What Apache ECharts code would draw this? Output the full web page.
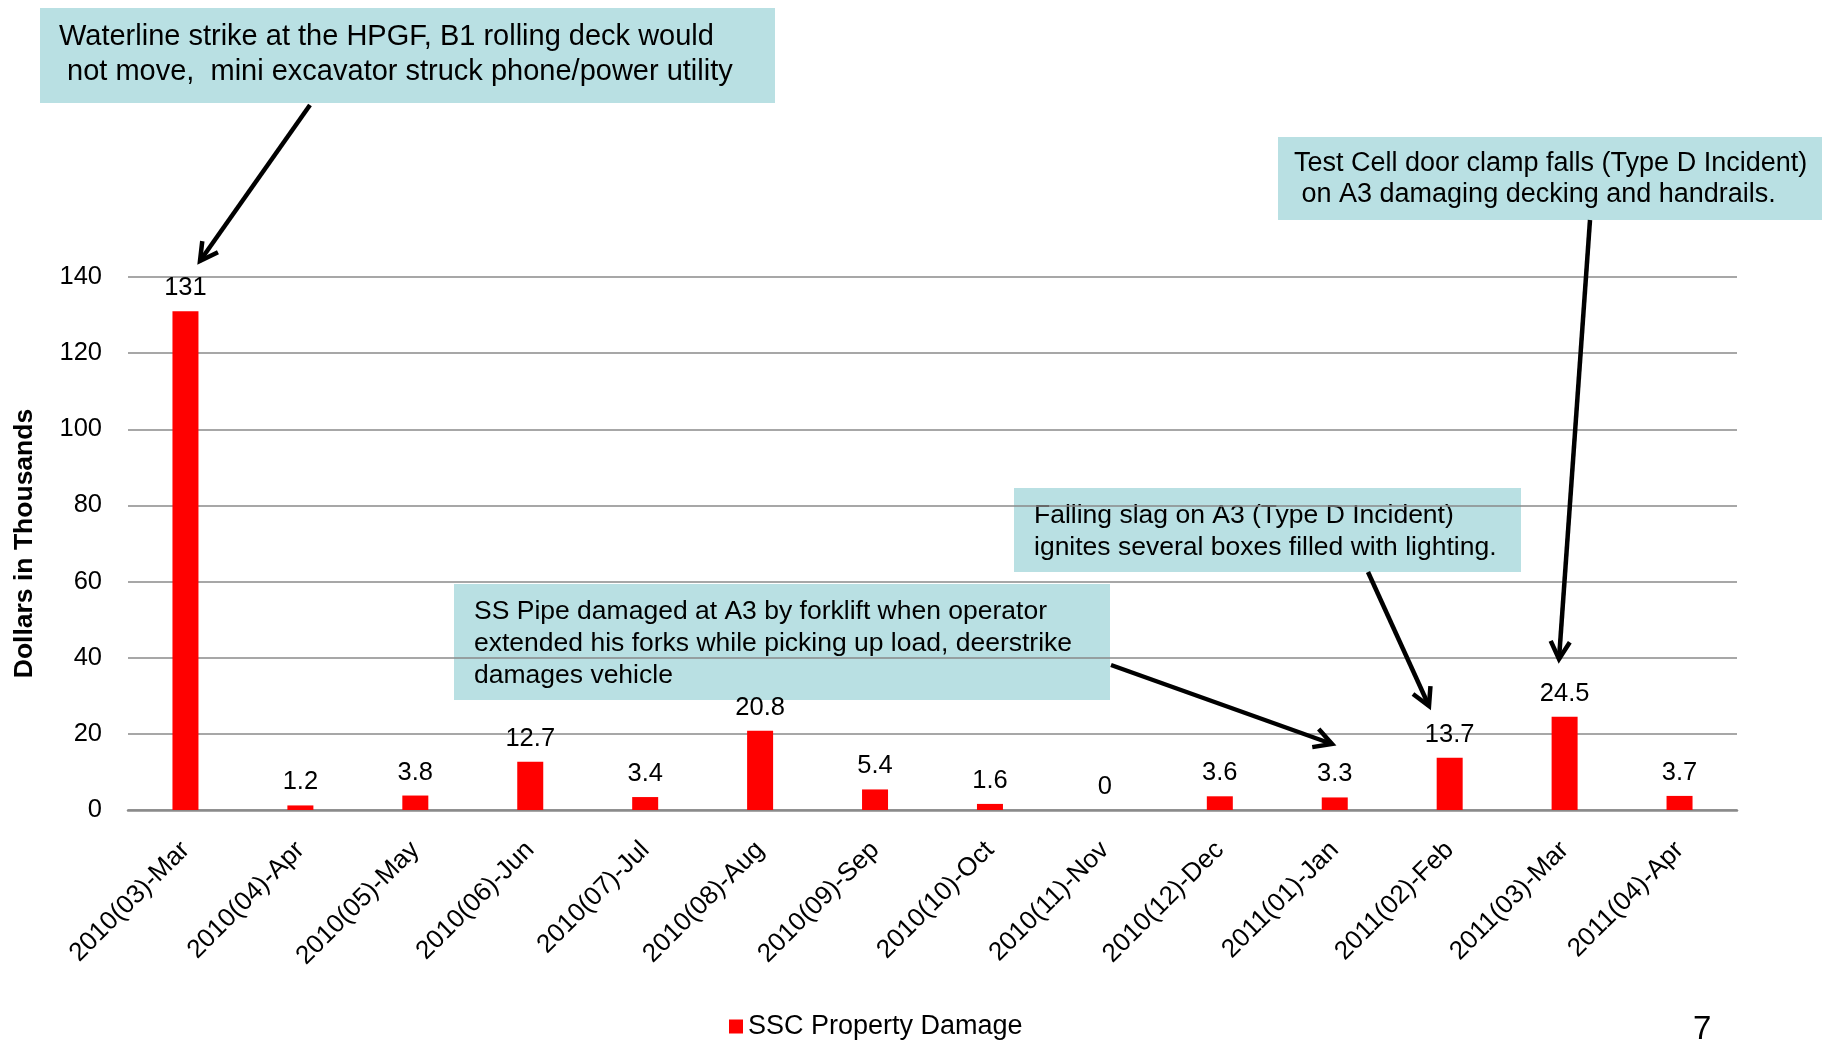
<!DOCTYPE html>
<html>
<head>
<meta charset="utf-8">
<script src="https://cdn.jsdelivr.net/npm/echarts@6/dist/echarts.min.js"></script>
<style>
html,body{margin:0;padding:0;background:#fff;}
#main{width:1822px;height:1040px;}
</style>
</head>
<body>
<div id="main"></div>
<script>
const categories = ['2010(03)-Mar','2010(04)-Apr','2010(05)-May','2010(06)-Jun','2010(07)-Jul','2010(08)-Aug','2010(09)-Sep','2010(10)-Oct','2010(11)-Nov','2010(12)-Dec','2011(01)-Jan','2011(02)-Feb','2011(03)-Mar','2011(04)-Apr'];
const damageValues = [131, 1.2, 3.8, 12.7, 3.4, 20.8, 5.4, 1.6, 0, 3.6, 3.3, 13.7, 24.5, 3.7];
const seriesName = 'SSC Property Damage';
const yAxisName = 'Dollars in Thousands';
const notes = [
  ['Waterline strike at the HPGF, B1 rolling deck would', ' not move,  mini excavator struck phone/power utility'],
  ['Test Cell door clamp falls (Type D Incident)', ' on A3 damaging decking and handrails.'],
  ['Falling slag on A3 (Type D Incident)', 'ignites several boxes filled with lighting.'],
  ['SS Pipe damaged at A3 by forklift when operator', 'extended his forks while picking up load, deerstrike', 'damages vehicle']
];

const FONT = '"Liberation Sans", Arial, sans-serif';
const BOX = '#b9e0e3';

function box(x, y, w, h, lines, tx, ty, lh, fs) {
  const els = [{type:'rect', z:-5, shape:{x:x, y:y, width:w, height:h}, style:{fill:BOX}}];
  lines.forEach((t, i) => {
    els.push({type:'text', z:-4, x:tx, y:ty + i*lh, style:{text:t, font: fs + 'px ' + FONT, fill:'#000', textVerticalAlign:'middle'}});
  });
  return els;
}
function arrow(x1, y1, x2, y2) {
  const a = Math.atan2(y2 - y1, x2 - x1);
  const L = 20, sp = 0.5;
  const p1 = [x2 - L*Math.cos(a - sp), y2 - L*Math.sin(a - sp)];
  const p2 = [x2 - L*Math.cos(a + sp), y2 - L*Math.sin(a + sp)];
  return [
    {type:'line', z:10, shape:{x1:x1, y1:y1, x2:x2, y2:y2}, style:{stroke:'#000', lineWidth:4.5}},
    {type:'polyline', z:10, shape:{points:[p1, [x2, y2], p2]}, style:{stroke:'#000', lineWidth:4.5, fill:null, lineJoin:'miter'}}
  ];
}

const graphics = [].concat(
  box(40, 8, 735, 95, notes[0], 59, 37, 35, 29),
  box(1278, 137, 544, 83, notes[1], 1294, 164, 31, 27),
  box(1014, 488, 507, 84, notes[2], 1034, 516, 32, 26.5),
  box(454, 584, 656, 116, notes[3], 474, 612, 32, 26.5),
  arrow(310, 105, 200, 261),
  arrow(1590, 220, 1559, 659),
  arrow(1368, 572, 1429, 706),
  arrow(1111, 665, 1332, 744),
  [{type:'text', x:1693, y:1013, style:{text:'7', font:'33px ' + FONT, fill:'#000'}}]
);

const chart = echarts.init(document.getElementById('main'));
chart.setOption({
  backgroundColor:'#fff',
  animation:false,
  grid:{left:128, right:85, top:277, bottom:230, containLabel:false},
  legend:{
    data:[seriesName], top:1008, left:724, itemWidth:14, itemHeight:14, itemGap:4,
    icon:'rect',
    textStyle:{fontFamily:FONT, fontSize:27, color:'#000'}
  },
  xAxis:{
    type:'category', data:categories,
    axisLine:{lineStyle:{color:'#8a8a8a', width:2.5}},
    axisTick:{show:false},
    axisLabel:{rotate:45, fontFamily:FONT, fontSize:26, color:'#000', margin:36, interval:0}
  },
  yAxis:{
    type:'value', min:0, max:140, interval:20,
    name:yAxisName, nameLocation:'middle', nameGap:90, nameRotate:90,
    nameTextStyle:{fontFamily:FONT, fontSize:26.5, fontWeight:'bold', color:'#000'},
    axisLine:{show:false}, axisTick:{show:false},
    axisLabel:{fontFamily:FONT, fontSize:25.5, color:'#000', margin:26},
    splitLine:{lineStyle:{color:'#8a8a8a', width:1.5}}
  },
  series:[{
    name:seriesName, type:'bar', data:damageValues, barWidth:26,
    itemStyle:{color:'#ff0000'},
    label:{show:true, position:'top', distance:10, fontFamily:FONT, fontSize:25.5, color:'#000'}
  }],
  graphic:{elements:graphics}
});
</script>
</body>
</html>
